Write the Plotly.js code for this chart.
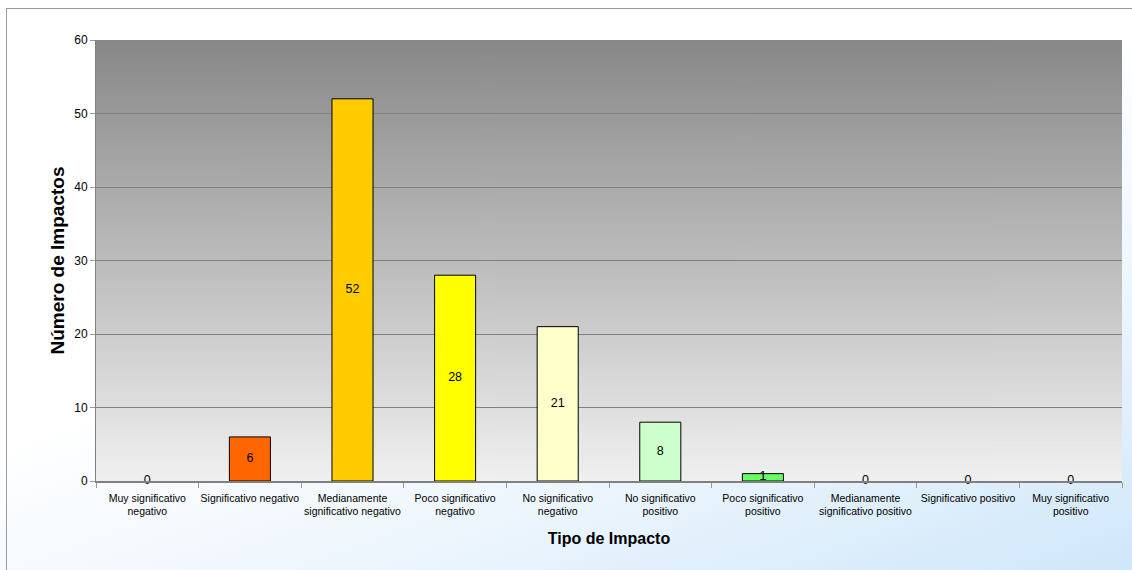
<!DOCTYPE html>
<html>
<head>
<meta charset="utf-8">
<script src="https://cdn.plot.ly/plotly-3.0.1.min.js"></script>
<style>
html,body{margin:0;padding:0;}
body{width:1132px;height:570px;overflow:hidden;position:relative;
 background:linear-gradient(160deg,#ffffff 0%,#ffffff 45%,#eef6fd 70%,#cfe7fa 100%);}
#frame{position:absolute;left:6px;top:8px;width:1140px;height:580px;border-left:1.5px solid #9a9a9a;border-top:1.5px solid #9a9a9a;}
#chart{position:absolute;left:0;top:0;width:1132px;height:570px;}
</style>
</head>
<body>
<div id="frame"></div>
<div id="chart"></div>
<script>
const categories = [
  "Muy significativo<br>negativo",
  "Significativo negativo",
  "Medianamente<br>significativo negativo",
  "Poco significativo<br>negativo",
  "No significativo<br>negativo",
  "No significativo<br>positivo",
  "Poco significativo<br>positivo",
  "Medianamente<br>significativo positivo",
  "Significativo positivo",
  "Muy significativo<br>positivo"
];
const impactos = [0, 6, 52, 28, 21, 8, 1, 0, 0, 0];
const barColors = ["#FF0000", "#FF6600", "#FFCC00", "#FFFF00", "#FFFFCC", "#CCFFCC", "#66FF66", "#33CC33", "#009900", "#006600"];
const yTicks = [0, 10, 20, 30, 40, 50, 60];

// gradient background for plot area
const cv = document.createElement('canvas');
cv.width = 4; cv.height = 256;
const ctx = cv.getContext('2d');
const g = ctx.createLinearGradient(0, 0, 0, 256);
g.addColorStop(0, '#888888');
g.addColorStop(1, '#f0f0f0');
ctx.fillStyle = g; ctx.fillRect(0, 0, 4, 256);
const bgURL = cv.toDataURL('image/png');

const fontLab = '"Liberation Sans Narrow", "Liberation Sans", Arial, sans-serif';

const bars = {
  type: 'bar',
  x: categories,
  y: impactos,
  width: 0.4,
  marker: {color: barColors, line: {color: '#000000', width: impactos.map(v => v > 0 ? 1 : 0)}},
  hoverinfo: 'skip',
  showlegend: false
};
const labels = {
  type: 'scatter',
  mode: 'text',
  x: categories,
  y: impactos.map(v => v / 2),
  text: impactos.map(String),
  textposition: 'middle center',
  textfont: {family: fontLab, size: 12.5, color: '#000000'},
  hoverinfo: 'skip',
  showlegend: false,
  cliponaxis: false
};

const layout = {
  width: 1132, height: 570,
  margin: {l: 96, r: 10, t: 40, b: 89},
  paper_bgcolor: 'rgba(0,0,0,0)',
  plot_bgcolor: 'rgba(0,0,0,0)',
  images: [{source: bgURL, xref: 'paper', yref: 'paper', x: 0, y: 1, sizex: 1, sizey: 1,
            sizing: 'stretch', xanchor: 'left', yanchor: 'top', layer: 'below'}],
  xaxis: {
    type: 'category',
    showline: true, linecolor: '#808080', linewidth: 2,
    ticks: 'outside', tickson: 'boundaries', ticklen: 5, tickcolor: '#999999',
    showgrid: false,
    tickangle: 0,
    ticklabelstandoff: 6,
    tickfont: {family: fontLab, size: 10.5, color: '#000000'},
    title: {text: 'Tipo de Impacto', font: {family: 'Liberation Sans, Arial, sans-serif', size: 16, color: '#000000', weight: 'bold'}, standoff: 17},
    range: [-0.5, 9.5]
  },
  yaxis: {
    range: [0, 60],
    tickvals: yTicks,
    showline: true, linecolor: '#808080', linewidth: 1,
    ticks: 'outside', ticklen: 5, tickcolor: '#999999',
    showgrid: true, gridcolor: '#808080', gridwidth: 1,
    zeroline: false,
    tickfont: {family: fontLab, size: 12, color: '#000000'},
    title: {text: 'Número de Impactos', font: {family: 'Liberation Sans, Arial, sans-serif', size: 19, color: '#000000', weight: 'bold'}, standoff: 4}
  },
  bargap: 0.6
};

Plotly.newPlot('chart', [bars, labels], layout, {displayModeBar: false, staticPlot: true});
</script>
</body>
</html>
